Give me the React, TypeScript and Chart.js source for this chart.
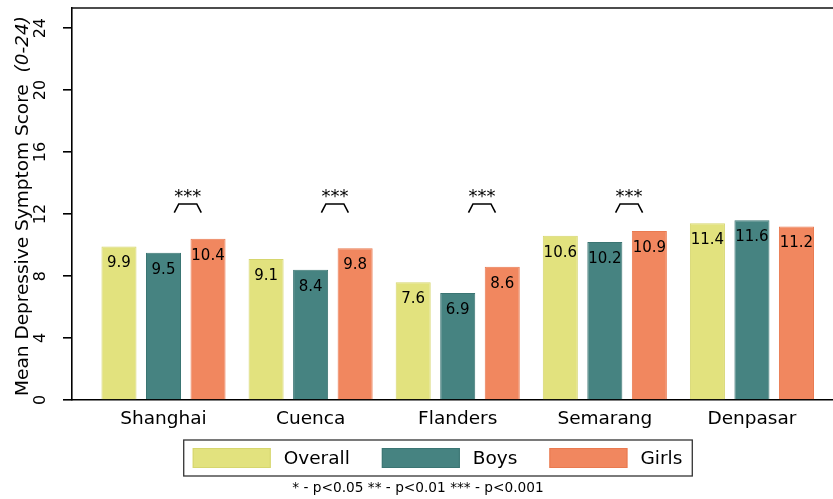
import { useEffect, useRef } from "react";
import { Chart, registerables } from "chart.js";

Chart.register(...registerables);

// Sites and mean depressive symptom scores (0-24 scale)
const cities = ["Shanghai", "Cuenca", "Flanders", "Semarang", "Denpasar"];
const overall = [9.9, 9.1, 7.6, 10.6, 11.4];
const boys = [9.5, 8.4, 6.9, 10.2, 11.6];
const girls = [10.4, 9.8, 8.6, 10.9, 11.2];
// Significance of the boys/girls difference per site
const genderGap = ["***", "***", "***", "***", ""];
const yTicks = [0, 4, 8, 12, 16, 20, 24];
const seriesNames = ["Overall", "Boys", "Girls"];
const yTitle = "Mean Depressive Symptom Score";
const yRange = "(0-24)";
const footnote = "* - p<0.05 ** - p<0.01 *** - p<0.001";

const FONT = "'DejaVu Sans', 'Liberation Sans', sans-serif";
const fills = ["#E2E27E", "#468381", "#F1875F"];
const edges = ["#D6D66E", "#3B7573", "#E97A50"];

const positions = cities.map((_, i) => i + 1);

const annotate = {
  id: "annotate",
  afterDatasetsDraw(chart: any) {
    const ctx = chart.ctx as CanvasRenderingContext2D;
    const y = chart.scales.y;
    ctx.save();
    // value labels inside bar tops
    ctx.fillStyle = "#000";
    ctx.font = `15px ${FONT}`;
    ctx.textAlign = "center";
    ctx.textBaseline = "middle";
    [overall, boys, girls].forEach((series, d) => {
      const meta = chart.getDatasetMeta(d);
      series.forEach((v, i) => {
        const bar = meta.data[i];
        ctx.fillText(v.toFixed(1), bar.x, bar.y + 17);
      });
    });
    // significance brackets between boys and girls
    const yTop = y.getPixelForValue(12.65);
    const yLeg = y.getPixelForValue(12.1);
    genderGap.forEach((s, i) => {
      if (!s) return;
      const bx = chart.getDatasetMeta(1).data[i].x;
      const gx = chart.getDatasetMeta(2).data[i].x;
      const cx = (bx + gx) / 2 + 2;
      ctx.strokeStyle = "#000";
      ctx.lineWidth = 1.6;
      ctx.beginPath();
      ctx.moveTo(cx - 13.5, yLeg);
      ctx.lineTo(cx - 9, yTop);
      ctx.lineTo(cx + 9, yTop);
      ctx.lineTo(cx + 13.5, yLeg);
      ctx.stroke();
      ctx.font = `18px ${FONT}`;
      ctx.textBaseline = "alphabetic";
      ctx.fillText(s, cx, yTop - 2);
    });
    ctx.restore();
  },
  afterDraw(chart: any) {
    const ctx = chart.ctx as CanvasRenderingContext2D;
    const area = chart.chartArea;
    const yScale = chart.scales.y;
    ctx.save();
    // frame line along the top of the plot region
    ctx.strokeStyle = "#111";
    ctx.lineWidth = 1.6;
    ctx.beginPath();
    ctx.moveTo(area.left, area.top);
    ctx.lineTo(area.right, area.top);
    ctx.stroke();

    // y tick labels, written vertically
    ctx.fillStyle = "#000";
    ctx.font = `16px ${FONT}`;
    ctx.textAlign = "center";
    ctx.textBaseline = "alphabetic";
    yScale.ticks.forEach((t: any) => {
      const py = yScale.getPixelForValue(t.value);
      ctx.save();
      ctx.translate(45, py);
      ctx.rotate(-Math.PI / 2);
      ctx.fillText(String(t.value), 0, 0);
      ctx.restore();
    });

    // y axis title: plain text plus italic range
    ctx.textAlign = "left";
    const plain = `18.5px ${FONT}`;
    const ital = `italic 18.5px ${FONT}`;
    ctx.font = plain;
    const w1 = ctx.measureText(yTitle + "  ").width;
    ctx.font = ital;
    const w2 = ctx.measureText(yRange).width;
    const total = w1 + w2;
    ctx.save();
    ctx.translate(27.5, (area.top + area.bottom) / 2 + 2);
    ctx.rotate(-Math.PI / 2);
    ctx.font = plain;
    ctx.fillText(yTitle, -total / 2, 0);
    ctx.font = ital;
    ctx.fillText(yRange, -total / 2 + w1, 0);
    ctx.restore();

    // legend box
    ctx.font = `18.5px ${FONT}`;
    const sw = 78, sh = 20, gapText = 13, gapItem = 32, padL = 9, padR = 10;
    const widths = seriesNames.map((n) => ctx.measureText(n).width);
    let boxW = padL + padR;
    widths.forEach((w, i) => {
      boxW += sw + gapText + w + (i < widths.length - 1 ? gapItem : 0);
    });
    const boxH = 36;
    const bx = 438 - boxW / 2;
    const by = 440;
    ctx.strokeStyle = "#333";
    ctx.lineWidth = 1.3;
    ctx.strokeRect(bx, by, boxW, boxH);
    let x = bx + padL;
    seriesNames.forEach((n, i) => {
      ctx.fillStyle = fills[i];
      ctx.fillRect(x, by + 8, sw, sh);
      ctx.strokeStyle = edges[i];
      ctx.lineWidth = 1;
      ctx.strokeRect(x + 0.5, by + 8.5, sw - 1, sh - 1);
      x += sw + gapText;
      ctx.fillStyle = "#000";
      ctx.textBaseline = "middle";
      ctx.fillText(n, x, by + boxH / 2 + 1);
      x += widths[i] + gapItem;
    });

    // footnote
    ctx.font = `13.7px ${FONT}`;
    ctx.textAlign = "center";
    ctx.textBaseline = "middle";
    ctx.fillText(footnote, 418, 488);
    ctx.restore();
  },
};

export default function App() {
  const ref = useRef<HTMLCanvasElement | null>(null);

  useEffect(() => {
    if (!ref.current) return;
    Chart.defaults.font.family = FONT;
    Chart.defaults.color = "#000";
    const series = [overall, boys, girls];
    const chart = new Chart(ref.current, {
      type: "bar",
      data: {
        datasets: series.map((vals, d) => ({
          label: seriesNames[d],
          data: vals.map((v, i) => ({ x: positions[i], y: v })),
          backgroundColor: fills[d],
          borderColor: edges[d],
          borderWidth: 1,
          categoryPercentage: 0.908,
          barPercentage: 0.787,
        })),
      },
      options: {
        animation: false,
        responsive: false,
        devicePixelRatio: 1,
        layout: { padding: { top: 8, right: 0, left: 0, bottom: 0 } },
        plugins: {
          legend: { display: false },
          tooltip: { enabled: false },
        },
        scales: {
          x: {
            type: "linear",
            offset: false,
            min: 0.378,
            max: 5.551,
            grid: { display: false, drawTicks: false, offset: false },
            border: { display: true, color: "#000", width: 1.6 },
            afterBuildTicks: (scale: any) => {
              scale.ticks = positions.map((v) => ({ value: v }));
            },
            afterFit: (scale: any) => {
              scale.height = 99;
            },
            ticks: {
              autoSkip: false,
              maxRotation: 0,
              minRotation: 0,
              padding: 8,
              font: { size: 18.5 },
              color: "#000",
              callback: (v: any) => cities[Math.round(Number(v)) - 1] ?? "",
            },
          },
          y: {
            type: "linear",
            min: 0,
            max: 25.3,
            grid: {
              drawOnChartArea: false,
              drawTicks: true,
              tickLength: 9,
              color: "#000",
              lineWidth: 1.6,
            },
            border: { display: true, color: "#000", width: 1.6 },
            afterBuildTicks: (scale: any) => {
              scale.ticks = yTicks.map((v) => ({ value: v }));
            },
            afterFit: (scale: any) => {
              scale.width = 72;
            },
            ticks: {
              display: false,
              autoSkip: false,
            },
          },
        },
      },
      plugins: [annotate],
    });
    return () => chart.destroy();
  }, []);

  return (
    <div style={{ position: "absolute", left: 0, top: 0, background: "#fff" }}>
      <canvas ref={ref} width={833} height={499} style={{ display: "block" }} />
    </div>
  );
}
